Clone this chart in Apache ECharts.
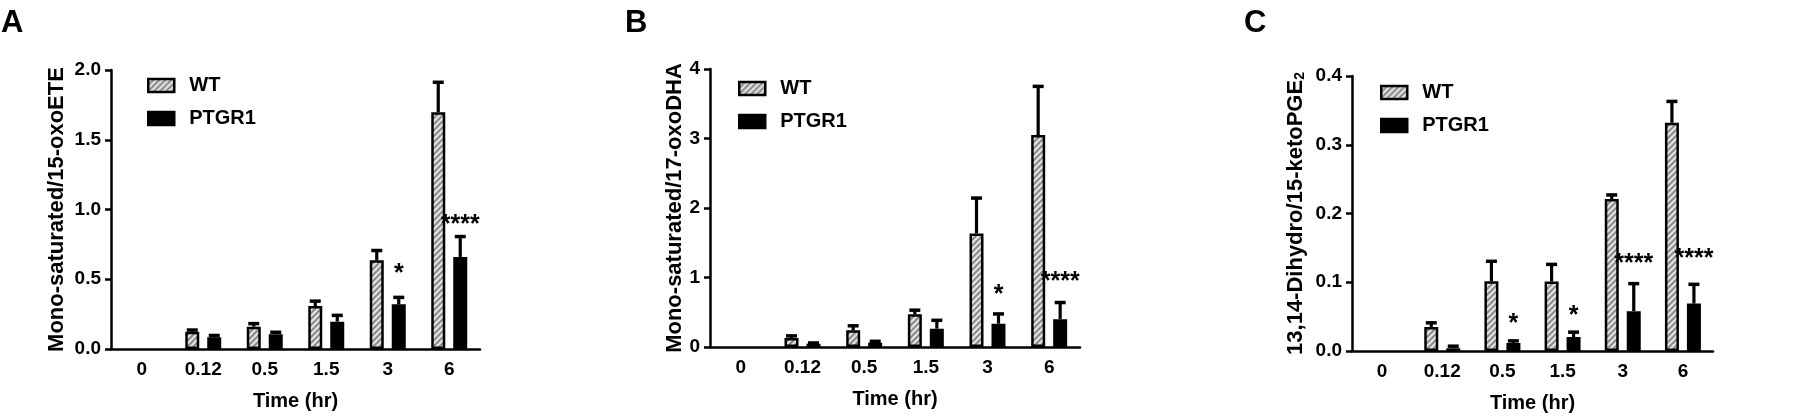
<!DOCTYPE html>
<html><head><meta charset="utf-8">
<script src="https://cdn.jsdelivr.net/npm/echarts@6/dist/echarts.min.js"></script>
<style>html,body{margin:0;padding:0;background:#fff}#c{width:1800px;height:418px}</style>
</head><body><div id="c"></div>
<script>
// ---------- data ----------
const categories = ['0', '0.12', '0.5', '1.5', '3', '6'];

const wtA    = [0, 0.124, 0.160, 0.308, 0.636, 1.697];
const wtErrA = [0, 0.012, 0.022, 0.035, 0.070, 0.215];
const koA    = [0, 0.084, 0.105, 0.196, 0.320, 0.660];
const koErrA = [0, 0.013, 0.015, 0.045, 0.050, 0.146];
const sigA    = ['', '', '', '', '*', '****'];
const sigPosA = [null, null, null, null, 0.58, 0.93];

const wtB    = [0, 0.13, 0.24, 0.47, 1.633, 3.05];
const wtErrB = [0, 0.03, 0.065, 0.06, 0.51, 0.70];
const koB    = [0, 0.048, 0.062, 0.264, 0.336, 0.40];
const koErrB = [0, 0.01, 0.02, 0.12, 0.14, 0.24];
const sigB    = ['', '', '', '', '*', '****'];
const sigPosB = [null, null, null, null, 0.83, 1.02];

const wtC    = [0, 0.035, 0.1015, 0.101, 0.221, 0.332];
const wtErrC = [0, 0.006, 0.029, 0.025, 0.006, 0.031];
const koC    = [0, 0.004, 0.0117, 0.0204, 0.058, 0.069];
const koErrC = [0, 0.003, 0.003, 0.007, 0.040, 0.028];
const sigC    = ['', '', '*', '*', '****', '****'];
const sigPosC = [null, null, 0.048, 0.059, 0.135, 0.142];

const yTicksA = { max: 2.0, interval: 0.5, digits: 1 };
const yTicksB = { max: 4, interval: 1, digits: 0 };
const yTicksC = { max: 0.4, interval: 0.1, digits: 1 };

const yNameA = 'Mono-saturated/15-oxoETE';
const yNameB = 'Mono-saturated/17-oxoDHA';
const yNameC = '13,14-Dihydro/15-ketoPGE{sub|2}';
const xName = 'Time (hr)';
const seriesNames = ['WT', 'PTGR1'];
const panelLetters = ['A', 'B', 'C'];

// ---------- style ----------
const FONT = '"Liberation Sans", Arial, sans-serif';
const BAR_W = 14, BAR_GAP = '57%', OFF = 11;

function hatch() {
  const c = document.createElement('canvas');
  c.width = 6; c.height = 6;
  const g = c.getContext('2d');
  g.fillStyle = '#e4e4e4'; g.fillRect(0, 0, 6, 6);
  g.strokeStyle = '#8a8a8a'; g.lineWidth = 2;
  g.beginPath();
  g.moveTo(-1, 7); g.lineTo(7, -1);
  g.moveTo(-1, 1); g.lineTo(1, -1);
  g.moveTo(5, 7); g.lineTo(7, 5);
  g.stroke();
  return c;
}
const hatchFill = { image: hatch(), repeat: 'repeat' };

const panels = [
  { wt: wtA, wtE: wtErrA, ko: koA, koE: koErrA, sig: sigA, sigPos: sigPosA, y: yTicksA, name: yNameA,
    grid: { left: 111, top: 70, width: 369, height: 279 }, nameGap: 43,
    legend: { left: 147, top: 75 }, letter: { x: 1, y: 23 } },
  { wt: wtB, wtE: wtErrB, ko: koB, koE: koErrB, sig: sigB, sigPos: sigPosB, y: yTicksB, name: yNameB,
    grid: { left: 710, top: 69, width: 370, height: 278 }, nameGap: 23,
    legend: { left: 738, top: 78 }, letter: { x: 625, y: 23 } },
  { wt: wtC, wtE: wtErrC, ko: koC, koE: koErrC, sig: sigC, sigPos: sigPosC, y: yTicksC, name: yNameC,
    grid: { left: 1352, top: 76, width: 361, height: 275 }, nameGap: 45,
    legend: { left: 1380, top: 82 }, letter: { x: 1244, y: 23 } }
];

const option = {
  animation: false,
  textStyle: { fontFamily: FONT, color: '#000' },
  grid: [], xAxis: [], yAxis: [], series: [], legend: [], graphic: []
};

function errSeries(gi, vals, errs, off) {
  return {
    type: 'custom', xAxisIndex: gi, yAxisIndex: gi, z: 5, silent: true,
    data: vals.map((v, i) => [i, v, errs[i]]),
    renderItem(params, api) {
      const e = api.value(2);
      if (!e) return;
      const base = api.coord([api.value(0), api.value(1)]);
      const top = api.coord([api.value(0), api.value(1) + e]);
      const x = base[0] + off;
      return { type: 'group', children: [
        { type: 'line', shape: { x1: x, y1: base[1], x2: x, y2: top[1] }, style: { stroke: '#000', lineWidth: 3.2 } },
        { type: 'line', shape: { x1: x - 5.5, y1: top[1], x2: x + 5.5, y2: top[1] }, style: { stroke: '#000', lineWidth: 3.5 } }
      ] };
    }
  };
}

function sigSeries(gi, sig, pos) {
  const items = [];
  sig.forEach((s, i) => { if (s) items.push({ i, s, p: pos[i] }); });
  return {
    type: 'custom', xAxisIndex: gi, yAxisIndex: gi, z: 6, silent: true,
    data: items.map(d => [d.i, d.p]),
    renderItem(params, api) {
      const pt = api.coord([api.value(0), api.value(1)]);
      return { type: 'text', x: pt[0] + OFF, y: pt[1] + 6,
        style: { text: items[params.dataIndex].s, fontSize: 25, fontWeight: 'bold', fontFamily: FONT,
                 fill: '#000', align: 'center', verticalAlign: 'middle' } };
    }
  };
}

// zero-height bars are not drawn in the reference
const hideZero = arr => arr.map(v => (v === 0 ? '-' : v));

panels.forEach((p, gi) => {
  option.grid.push(p.grid);
  option.xAxis.push({
    type: 'category', gridIndex: gi, data: categories,
    name: xName, nameLocation: 'middle', nameGap: 42,
    nameTextStyle: { fontSize: 20, fontWeight: 'bold', color: '#000', fontFamily: FONT },
    axisLine: { lineStyle: { color: '#000', width: 2.5 } },
    axisTick: { alignWithLabel: true, length: 6, lineStyle: { color: '#000', width: 2.5 } },
    axisLabel: { fontSize: 19, fontWeight: 'bold', color: '#000', margin: 11, fontFamily: FONT },
    splitLine: { show: false }
  });
  option.yAxis.push({
    type: 'value', gridIndex: gi, min: 0, max: p.y.max, interval: p.y.interval,
    name: p.name, nameLocation: 'middle', nameGap: p.nameGap,
    nameTextStyle: { fontSize: 22, fontWeight: 'bold', color: '#000', fontFamily: FONT,
      rich: { sub: { fontSize: 14, fontWeight: 'bold', fontFamily: FONT, color: '#000', verticalAlign: 'bottom', padding: [8, 0, 0, 0] } } },
    axisLine: { show: true, lineStyle: { color: '#000', width: 2.5 } },
    axisTick: { show: true, length: 6, lineStyle: { color: '#000', width: 2.5 } },
    axisLabel: { fontSize: 19, fontWeight: 'bold', color: '#000', margin: 10, fontFamily: FONT,
      formatter: v => v.toFixed(p.y.digits) },
    splitLine: { show: false }
  });
  option.series.push({
    type: 'bar', name: seriesNames[0], xAxisIndex: gi, yAxisIndex: gi, data: hideZero(p.wt),
    barWidth: BAR_W, barGap: BAR_GAP,
    itemStyle: { color: hatchFill, borderColor: '#000', borderWidth: 2.5 }
  });
  option.series.push({
    type: 'bar', name: seriesNames[1], xAxisIndex: gi, yAxisIndex: gi, data: hideZero(p.ko),
    barWidth: BAR_W, barGap: BAR_GAP,
    itemStyle: { color: '#000', borderColor: '#000', borderWidth: 2.5 }
  });
  option.series.push(errSeries(gi, p.wt, p.wtE, -OFF));
  option.series.push(errSeries(gi, p.ko, p.koE, OFF));
  option.series.push(sigSeries(gi, p.sig, p.sigPos));
  option.legend.push({
    left: p.legend.left, top: p.legend.top, orient: 'vertical', padding: 0,
    itemWidth: 26, itemHeight: 13, itemGap: 12, icon: 'rect',
    selectedMode: false,
    itemStyle: { borderWidth: 2.5, borderColor: '#000' },
    textStyle: { fontSize: 20, fontWeight: 'bold', color: '#000', lineHeight: 21, padding: [0, 0, 0, 10], fontFamily: FONT },
    data: seriesNames
  });
  option.graphic.push({
    type: 'text', x: p.letter.x, y: p.letter.y,
    style: { text: panelLetters[gi], fontSize: 31, fontWeight: 'bold', fontFamily: FONT, fill: '#000', verticalAlign: 'middle' }
  });
});

const chart = echarts.init(document.getElementById('c'), null, { renderer: 'canvas' });
chart.setOption(option);
</script>
</body></html>
